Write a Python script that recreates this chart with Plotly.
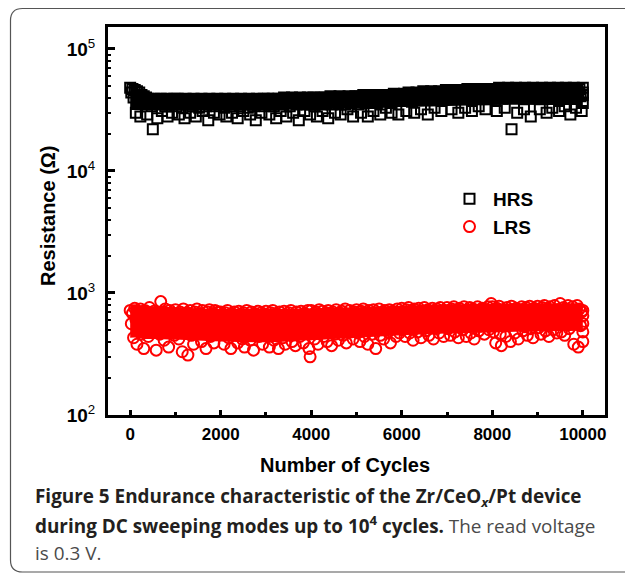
import plotly.graph_objects as go

# ---- data ----
cycles_hrs = list(range(0, 10001, 25)) + [10000, 10000, 10000]
hrs_kohm = [
    48, 44, 47, 40, 46, 30, 45, 42, 44, 28, 42, 39, 41, 36, 40, 29, 39, 37, 38, 34, 22, 39, 36, 38, 27, 37, 35, 39, 31, 38, 36, 34, 39, 28, 37, 35, 38, 30, 36, 39,
    37, 34, 39, 29, 36, 38, 33, 37, 27, 39, 35, 38, 36, 30, 37, 34, 39, 35, 28, 38, 36, 33, 37, 39, 31, 36, 38, 34, 37, 26, 39, 35, 36, 38, 30, 37, 34, 39, 36, 29,
    38, 35, 37, 33, 39, 28, 36, 38, 34, 37, 30, 39, 35, 36, 38, 27, 37, 34, 39, 36, 31, 38, 35, 37, 33, 39, 29, 36, 38, 34, 37, 26, 39, 35, 38, 36, 30, 37, 39, 34,
    38, 36, 39, 29, 37, 35, 39, 34, 38, 27, 36, 39, 37, 31, 38, 35, 40, 36, 28, 39, 37, 34, 38, 40, 30, 36, 39, 35, 38, 26, 40, 37, 36, 39, 31, 38, 35, 40, 37, 29,
    39, 36, 40, 34, 38, 28, 39, 37, 40, 35, 31, 38, 40, 36, 39, 27, 38, 41, 35, 39, 37, 30, 40, 38, 36, 41, 29, 39, 37, 40, 35, 38, 32, 41, 39, 36, 40, 28, 38, 41,
    37, 40, 35, 41, 30, 39, 42, 38, 36, 41, 28, 40, 38, 42, 37, 31, 41, 39, 36, 42, 40, 29, 38, 41, 37, 42, 33, 40, 39, 42, 36, 30, 41, 43, 38, 40, 42, 29, 39, 41,
    42, 38, 43, 40, 31, 41, 44, 39, 42, 37, 43, 30, 40, 44, 41, 38, 43, 32, 42, 45, 39, 41, 44, 29, 40, 43, 45, 38, 42, 33, 44, 41, 39, 45, 43, 31, 42, 44, 40, 46,
    43, 39, 45, 41, 32, 44, 46, 40, 43, 45, 30, 42, 46, 44, 39, 45, 33, 43, 47, 41, 44, 46, 31, 42, 45, 47, 40, 44, 34, 46, 43, 41, 47, 45, 32, 44, 46, 42, 47, 39,
    45, 47, 41, 44, 31, 46, 48, 42, 45, 39, 47, 33, 43, 46, 48, 40, 45, 22, 44, 47, 42, 48, 30, 45, 43, 47, 41, 46, 32, 48, 44, 42, 47, 45, 28, 46, 48, 41, 44, 47,
    43, 47, 32, 45, 48, 41, 46, 44, 30, 47, 42, 48, 45, 33, 44, 47, 40, 46, 48, 31, 43, 45, 47, 42, 34, 48, 46, 41, 44, 29, 47, 45, 48, 42, 33, 46, 44, 47, 41, 31,
    44, 48, 42, 36,
]
cycles_lrs = list(range(0, 10001, 25)) + [10000, 10000, 10000, 10000]
lrs_ohm = [
    720, 560, 680, 430, 750, 610, 380, 700, 520, 740, 460, 650, 350, 720, 590, 690, 440, 760, 540, 630, 480, 710, 570, 340, 680, 620, 460, 850, 520, 700, 410, 740, 580, 650, 360, 720, 500, 680, 610, 450,
    730, 540, 660, 420, 700, 590, 330, 740, 480, 620, 690, 310, 560, 720, 450, 650, 380, 700, 530, 740, 470, 610, 680, 400, 720, 550, 640, 350, 700, 500, 730, 440, 600, 680, 390, 720, 560, 470, 700, 620,
    700, 480, 640, 380, 690, 560, 720, 430, 610, 350, 680, 520, 700, 460, 590, 390, 710, 540, 650, 420, 690, 360, 600, 720, 500, 660, 410, 700, 570, 340, 680, 480, 620, 710, 440, 560, 690, 380, 650, 520,
    710, 450, 630, 360, 690, 540, 720, 410, 600, 680, 490, 350, 700, 570, 640, 430, 710, 380, 620, 530, 690, 460, 720, 400, 580, 660, 370, 700, 510, 640, 440, 710, 560, 390, 680, 600, 470, 720, 350, 300,
    720, 540, 660, 420, 700, 590, 380, 730, 480, 640, 710, 440, 560, 690, 400, 720, 510, 620, 370, 700, 580, 460, 730, 650, 410, 690, 530, 710, 450, 600, 740, 390, 670, 550, 720, 480, 630, 420, 700, 560,
    730, 470, 650, 400, 710, 580, 740, 440, 620, 690, 380, 720, 540, 660, 460, 730, 600, 350, 690, 510, 740, 450, 640, 700, 420, 720, 570, 660, 480, 730, 390, 620, 710, 530, 680, 440, 740, 590, 470, 700,
    750, 500, 680, 440, 730, 610, 760, 470, 650, 720, 410, 740, 560, 690, 480, 750, 620, 430, 710, 540, 760, 490, 660, 730, 450, 700, 590, 750, 420, 680, 520, 740, 630, 470, 760, 570, 700, 440, 720, 600,
    760, 510, 690, 450, 740, 620, 770, 480, 660, 730, 430, 750, 580, 700, 500, 770, 640, 440, 720, 560, 760, 470, 680, 740, 420, 710, 600, 770, 490, 650, 540, 750, 690, 460, 730, 610, 770, 500, 700, 820,
    770, 480, 700, 390, 750, 620, 780, 460, 370, 730, 540, 690, 440, 760, 600, 720, 400, 780, 560, 680, 470, 750, 640, 420, 730, 580, 770, 490, 700, 530, 760, 450, 650, 780, 510, 720, 430, 750, 610, 690,
    780, 520, 720, 460, 760, 640, 790, 490, 680, 740, 440, 770, 600, 710, 500, 790, 650, 470, 730, 560, 820, 480, 700, 760, 450, 740, 620, 790, 510, 690, 580, 770, 380, 720, 640, 790, 360, 740, 540, 700,
    720, 650, 560, 480, 400,
]
assert len(cycles_hrs) == len(hrs_kohm), (len(cycles_hrs), len(hrs_kohm))
assert len(cycles_lrs) == len(lrs_ohm), (len(cycles_lrs), len(lrs_ohm))
hrs_ohm = [v * 1000 for v in hrs_kohm]

# dense core of the overlapping markers (where the 10^4 points merge into a solid band)
band_cycles = [0, 150, 300, 500, 1000, 2000, 3000, 4000, 5000, 6000, 7000, 8000, 9000, 10000]
hrs_core_top_kohm = [50, 47.5, 43.5, 42.5, 42.5, 42.5, 43, 44, 45, 46.5, 48.5, 50, 51, 51]
hrs_core_bot_kohm = [31.6, 31.6, 31.6, 31.6, 31.6, 31.6, 31.6, 32, 32.9, 33.5, 34.1, 34.8, 34.8, 34.8]
lrs_core_top_ohm = [805, 805, 785, 775, 765, 740, 740, 750, 765, 785, 805, 815, 825, 825]
lrs_core_bot_ohm = [430, 430, 420, 420, 415, 400, 395, 410, 430, 450, 465, 475, 485, 490]

x_ticks = [0, 2000, 4000, 6000, 8000, 10000]
x_ticktext = ["0", "2000", "4000", "6000", "8000", "10000"]
x_minor = [1000, 3000, 5000, 7000, 9000]
y_ticks = [1e2, 1e3, 1e4, 1e5]
y_ticktext = ["<b>10</b><sup>2</sup>", "<b>10</b><sup>3</sup>", "<b>10</b><sup>4</sup>", "<b>10</b><sup>5</sup>"]
y_minor = [m * 10 ** e for e in (2, 3, 4) for m in range(2, 10)]

# ---- layout geometry ----
W, H = 625, 576
ML, MR, MT, MB = 108, 20, 27, 161
PW, PH = W - ML - MR, H - MT - MB


def px(x):
    return (x - ML) / PW


def py(y):
    return (H - MB - y) / PH


FONT = "Liberation Sans, Arial, sans-serif"

fig = go.Figure()
for top, bot, col in ((hrs_core_top_kohm, hrs_core_bot_kohm, "black"),
                      (lrs_core_top_ohm, lrs_core_bot_ohm, "red")):
    scale = 1000 if col == "black" else 1
    fig.add_trace(go.Scatter(x=band_cycles, y=[v * scale for v in top], mode="lines",
                             line=dict(width=0, color=col, shape="spline"),
                             showlegend=False, hoverinfo="skip"))
    fig.add_trace(go.Scatter(x=band_cycles, y=[v * scale for v in bot], mode="lines",
                             line=dict(width=0, color=col, shape="spline"), fill="tonexty",
                             fillcolor=col, showlegend=False, hoverinfo="skip"))

fig.add_trace(go.Scatter(
    x=cycles_hrs, y=hrs_ohm, mode="markers", name="HRS",
    marker=dict(symbol="square-open", size=10, color="black", line=dict(width=2, color="black")),
))
fig.add_trace(go.Scatter(
    x=cycles_lrs, y=lrs_ohm, mode="markers", name="LRS",
    marker=dict(symbol="circle-open", size=11, color="red", line=dict(width=2, color="red")),
))

fig.update_xaxes(
    range=[-490, 10490], tickvals=x_ticks, ticktext=x_ticktext, ticks="inside", ticklen=5, tickwidth=3,
    tickcolor="black", showline=True, linewidth=3, linecolor="black", mirror=True,
    showgrid=False, zeroline=False, ticklabelstandoff=2,
    tickfont=dict(family=FONT, size=17, color="black", weight="bold"),
    minor=dict(tickvals=x_minor, ticks="inside", ticklen=3, tickwidth=3, tickcolor="black"),
)
fig.update_yaxes(
    type="log", range=[2, 5.18], tickvals=y_ticks, ticktext=y_ticktext, ticks="inside",
    ticklen=7, tickwidth=3, tickcolor="black", showline=True, linewidth=3, linecolor="black",
    mirror=True, showgrid=False, zeroline=False, ticklabelstandoff=6,
    tickfont=dict(family=FONT, size=19, color="black"),
    minor=dict(tickvals=y_minor, ticks="inside", ticklen=3, tickwidth=2, tickcolor="black"),
)

annotations = [
    dict(text="<b>Number of Cycles</b>", x=px(345), y=py(465), xref="paper", yref="paper",
         showarrow=False, font=dict(family=FONT, size=20, color="black"), xanchor="center", yanchor="middle"),
    dict(text="<b>Resistance (Ω)</b>", x=px(48), y=py(216), xref="paper", yref="paper",
         showarrow=False, textangle=-90, font=dict(family=FONT, size=20, color="black"),
         xanchor="center", yanchor="middle"),
    dict(text="<b>Figure 5</b> <b>Endurance characteristic of the Zr/CeO<sub><i>x</i></sub>/Pt device</b>",
         x=px(33), y=py(497), xref="paper", yref="paper", showarrow=False,
         font=dict(family="Open Sans", size=18.9, color="#231f20"), xanchor="left", yanchor="middle"),
    dict(text="<b>during DC sweeping modes up to 10<sup>4</sup> cycles.</b> <span style='color:#4a4a4a'>The read voltage</span>",
         x=px(33), y=py(525), xref="paper", yref="paper", showarrow=False,
         font=dict(family="Open Sans", size=18.9, color="#231f20"), xanchor="left", yanchor="middle"),
    dict(text="is 0.3 V.",
         x=px(33), y=py(553), xref="paper", yref="paper", showarrow=False,
         font=dict(family="Open Sans", size=18.9, color="#4a4a4a"), xanchor="left", yanchor="middle"),
]

# rounded frame around the figure (open on the right side)
x0, y0, y1, r = px(10.5), py(8.5), py(572), 12
xr = px(10.5 + r)
dy = r / PH
border = (f"M {px(640)},{y0} L {xr},{y0} Q {x0},{y0} {x0},{y0 - dy} "
          f"L {x0},{y1 + dy} Q {x0},{y1} {xr},{y1} L {px(640)},{y1}")

fig.update_layout(
    width=W, height=H, margin=dict(l=ML, r=MR, t=MT, b=MB),
    paper_bgcolor="white", plot_bgcolor="white",
    showlegend=True,
    legend=dict(x=px(446), y=py(180), xanchor="left", yanchor="top", traceorder="normal",
                bgcolor="rgba(0,0,0,0)", font=dict(family=FONT, size=19, color="black", weight="bold"),
                itemwidth=37, tracegroupgap=0),
    annotations=annotations,
    shapes=[dict(type="path", path=border, xref="paper", yref="paper",
                 line=dict(color="#555555", width=1.2), layer="below")],
)

fig.write_html("out.html")
